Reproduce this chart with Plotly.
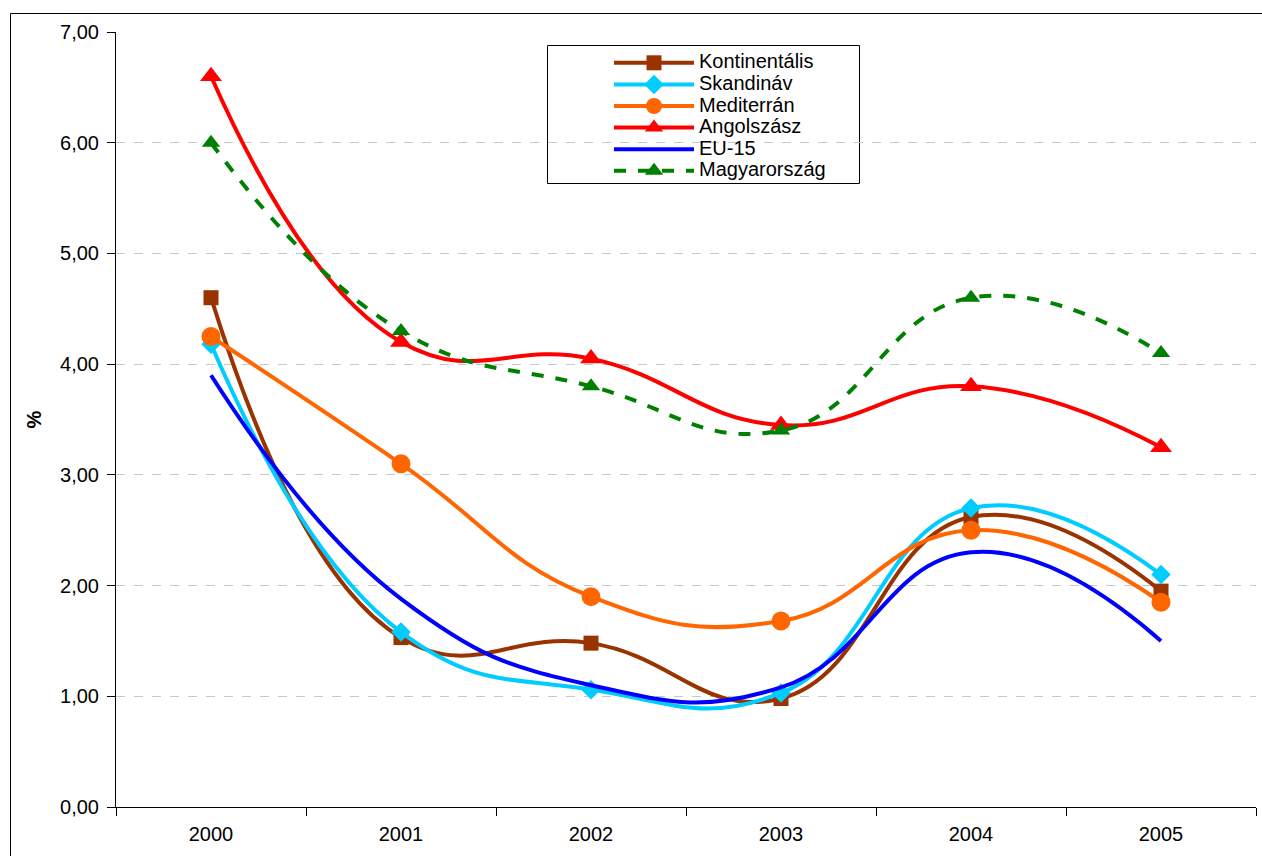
import plotly.graph_objects as go

years = ["2000", "2001", "2002", "2003", "2004", "2005"]
kontinentalis = [4.60, 1.53, 1.48, 0.98, 2.62, 1.95]
skandinav = [4.18, 1.58, 1.06, 1.03, 2.70, 2.10]
mediterran = [4.25, 3.10, 1.90, 1.68, 2.50, 1.85]
angolszasz = [6.60, 4.20, 4.05, 3.45, 3.80, 3.25]
eu15 = [3.90, 1.88, 1.10, 1.08, 2.30, 1.50]
magyarorszag = [6.00, 4.30, 3.80, 3.40, 4.60, 4.10]
y_ticks = [0, 1, 2, 3, 4, 5, 6, 7]
y_tick_text = ["0,00", "1,00", "2,00", "3,00", "4,00", "5,00", "6,00", "7,00"]

series = [
    ("Kontinentális", kontinentalis, "#993300", "square", 15, "solid", "lines+markers"),
    ("Skandináv", skandinav, "#00CCFF", "diamond", 15, "solid", "lines+markers"),
    ("Mediterrán", mediterran, "#FF6600", "circle", 19, "solid", "lines+markers"),
    ("Angolszász", angolszasz, "#FF0000", "triangle-up", 19, "solid", "lines+markers"),
    ("EU-15", eu15, "#0000FF", "circle", 1, "solid", "lines"),
    ("Magyarország", magyarorszag, "#008000", "triangle-up", 16, "dash", "lines+markers"),
]

fig = go.Figure()
for name, vals, color, sym, size, dash, mode in series:
    fig.add_trace(go.Scatter(
        x=years, y=vals, name='<span style="font-size:20px">' + name + '</span>', mode=mode,
        line=dict(color=color, width=4, dash=dash, shape="spline", smoothing=1.3),
        marker=dict(symbol=sym, size=size, color=color, line=dict(width=0)),
    ))

W, H = 1262, 856
L, R, T, B = 116, 6, 32, 49
PW, PH = W - L - R, H - T - B


def px(x):
    return (x - L) / PW


def py(y):
    return 1 - (y - T) / PH


fig.update_layout(
    width=W, height=H,
    margin=dict(l=L, r=R, t=T, b=B),
    paper_bgcolor="white", plot_bgcolor="white",
    font=dict(family="Liberation Sans, Arial, sans-serif", color="black", size=20),
    showlegend=True,
    legend=dict(
        x=px(609), y=py(47), xanchor="left", yanchor="top",
        bgcolor="rgba(0,0,0,0)", borderwidth=0,
        font=dict(size=14.3, family="Liberation Sans, Arial, sans-serif"),
        itemwidth=80, tracegroupgap=0,
    ),
    shapes=[
        dict(type="rect", xref="paper", yref="paper",
             x0=px(547.5), x1=px(859.5), y0=py(183.5), y1=py(45.5),
             line=dict(color="black", width=1), fillcolor="rgba(0,0,0,0)", layer="below"),
        dict(type="rect", xref="paper", yref="paper",
             x0=px(10.5), x1=px(1275), y0=py(880), y1=py(13.5),
             line=dict(color="black", width=1), fillcolor="rgba(0,0,0,0)", layer="below"),
    ],
)

fig.update_xaxes(
    type="category", range=[-0.5, 5.5], automargin=False,
    showline=True, linecolor="black", linewidth=1,
    ticks="outside", tickson="boundaries", ticklen=8, tickcolor="black",
    ticklabelstandoff=9,
    showgrid=False, zeroline=False,
    tickfont=dict(size=20),
)
fig.update_yaxes(
    range=[0, 7], tickvals=y_ticks, ticktext=y_tick_text, automargin=False,
    showline=True, linecolor="black", linewidth=1,
    ticks="outside", ticklen=8, tickcolor="black", ticklabelstandoff=4,
    showgrid=True, gridcolor="#C8C8C8", griddash="dash", gridwidth=1,
    zeroline=False,
    tickfont=dict(size=20),
    title=dict(text="<b>%</b>", font=dict(size=20), standoff=13),
)

fig.write_html(
    "out.html",
    config={"displayModeBar": False},
    post_script="document.body.style.margin='0';document.body.style.overflow='hidden';",
)
